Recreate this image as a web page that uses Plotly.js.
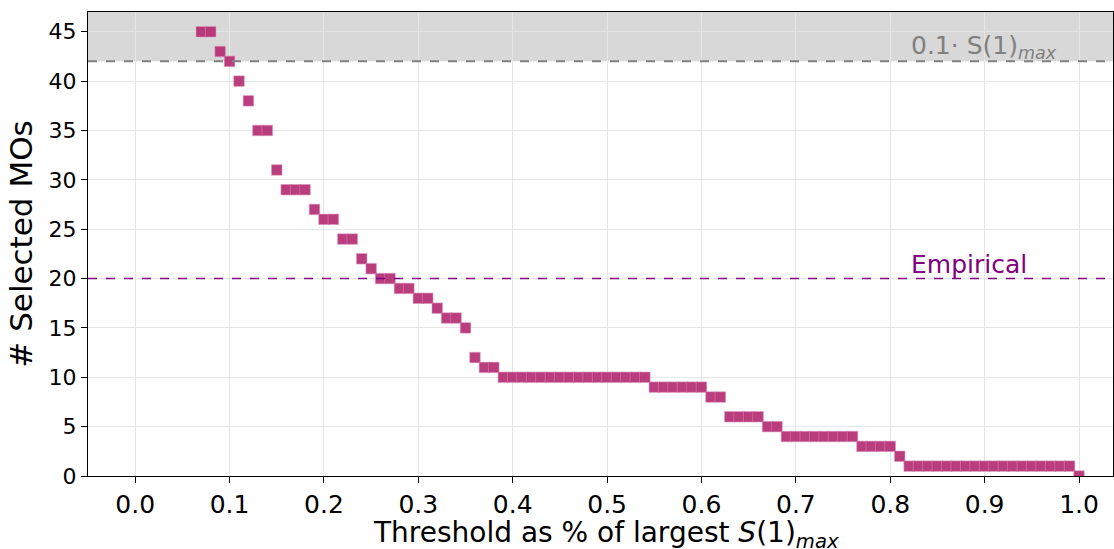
<!DOCTYPE html>
<html><head><meta charset="utf-8">
<script src="https://cdn.plot.ly/plotly-3.0.1.min.js"></script>
<style>body{margin:0}#c{width:1114px;height:549px}</style>
</head><body><div id="c"></div>
<script>
const thresholds = [0.07,0.08,0.09,0.10,0.11,0.12,0.13,0.14,0.15,0.16,0.17,0.18,0.19,0.20,0.21,0.22,0.23,0.24,0.25,0.26,0.27,0.28,0.29,0.30,0.31,0.32,0.33,0.34,0.35,0.36,0.37,0.38,0.39,0.40,0.41,0.42,0.43,0.44,0.45,0.46,0.47,0.48,0.49,0.50,0.51,0.52,0.53,0.54,0.55,0.56,0.57,0.58,0.59,0.60,0.61,0.62,0.63,0.64,0.65,0.66,0.67,0.68,0.69,0.70,0.71,0.72,0.73,0.74,0.75,0.76,0.77,0.78,0.79,0.80,0.81,0.82,0.83,0.84,0.85,0.86,0.87,0.88,0.89,0.90,0.91,0.92,0.93,0.94,0.95,0.96,0.97,0.98,0.99,1.00];
const selectedMOs = [45,45,43,42,40,38,35,35,31,29,29,29,27,26,26,24,24,22,21,20,20,19,19,18,18,17,16,16,15,12,11,11,10,10,10,10,10,10,10,10,10,10,10,10,10,10,10,10,9,9,9,9,9,9,8,8,6,6,6,6,5,5,4,4,4,4,4,4,4,4,3,3,3,3,2,1,1,1,1,1,1,1,1,1,1,1,1,1,1,1,1,1,1,0];
const cutoff = 42;
const empirical = 20;
const xTicks = [0,0.1,0.2,0.3,0.4,0.5,0.6,0.7,0.8,0.9,1.0];
const xTickText = ["0.0","0.1","0.2","0.3","0.4","0.5","0.6","0.7","0.8","0.9","1.0"];
const yTicks = [0,5,10,15,20,25,30,35,40,45];
const xTitle = 'Threshold as % of largest <i>S</i>(1)<sub><i>max</i></sub>';

const trace = {
  x: thresholds, y: selectedMOs, type: 'scatter', mode: 'markers',
  marker: {symbol: 'square', size: 10.5, color: 'rgba(180,45,115,0.92)', line: {width: 0.6, color: 'rgba(220,150,190,0.9)'}},
  hoverinfo: 'x+y', showlegend: false
};
const layout = {
  width: 1114, height: 549,
  margin: {l: 88, r: 1, t: 12, b: 73},
  paper_bgcolor: 'white', plot_bgcolor: 'white',
  font: {family: 'DejaVu Sans', color: 'black'},
  xaxis: {range: [-0.05, 1.036], tickvals: xTicks, ticktext: xTickText,
    tickfont: {size: 25}, ticks: 'outside', ticklen: 6, tickcolor: 'black',
    showline: true, linecolor: 'black', linewidth: 1, mirror: true,
    showgrid: true, gridcolor: '#e6e6e6', zeroline: false},
  yaxis: {range: [0, 47], tickvals: yTicks, tickfont: {size: 22},
    ticks: 'outside', ticklen: 6, tickcolor: 'black',
    showline: true, linecolor: 'black', linewidth: 1, mirror: true,
    showgrid: true, gridcolor: '#e6e6e6', zeroline: false,
    title: {text: '# Selected MOs', font: {size: 31}, standoff: 6}},
  shapes: [
    {type: 'rect', xref: 'paper', yref: 'y', x0: 0, x1: 1, y0: cutoff, y1: 47, fillcolor: 'rgba(190,190,190,0.6)', line: {width: 0}, layer: 'below'},
    {type: 'line', xref: 'paper', yref: 'y', x0: 0, x1: 1, y0: cutoff, y1: cutoff, line: {color: 'grey', width: 2, dash: 'dash'}},
    {type: 'line', xref: 'paper', yref: 'y', x0: 0, x1: 1, y0: empirical, y1: empirical, line: {color: 'purple', width: 1.6, dash: 'dash'}}
  ],
  annotations: [
    {x: 0.82, y: cutoff, xref: 'x', yref: 'y', xanchor: 'left', yanchor: 'bottom', showarrow: false,
     text: '0.1· S(1)<sub><i>max</i></sub>', font: {size: 25, color: 'grey'}, yshift: -4},
    {x: 0.82, y: empirical, xref: 'x', yref: 'y', xanchor: 'left', yanchor: 'bottom', showarrow: false,
     text: 'Empirical', font: {size: 25, color: 'purple'}, yshift: -2},
    {x: 0.5055, y: -0.16, xref: 'paper', yref: 'paper', xanchor: 'center', yanchor: 'bottom', showarrow: false,
     text: xTitle, font: {size: 28, color: 'black'}, yshift: -5}
  ]
};
Plotly.newPlot('c', [trace], layout, {displayModeBar: false, staticPlot: true});
</script></body></html>
